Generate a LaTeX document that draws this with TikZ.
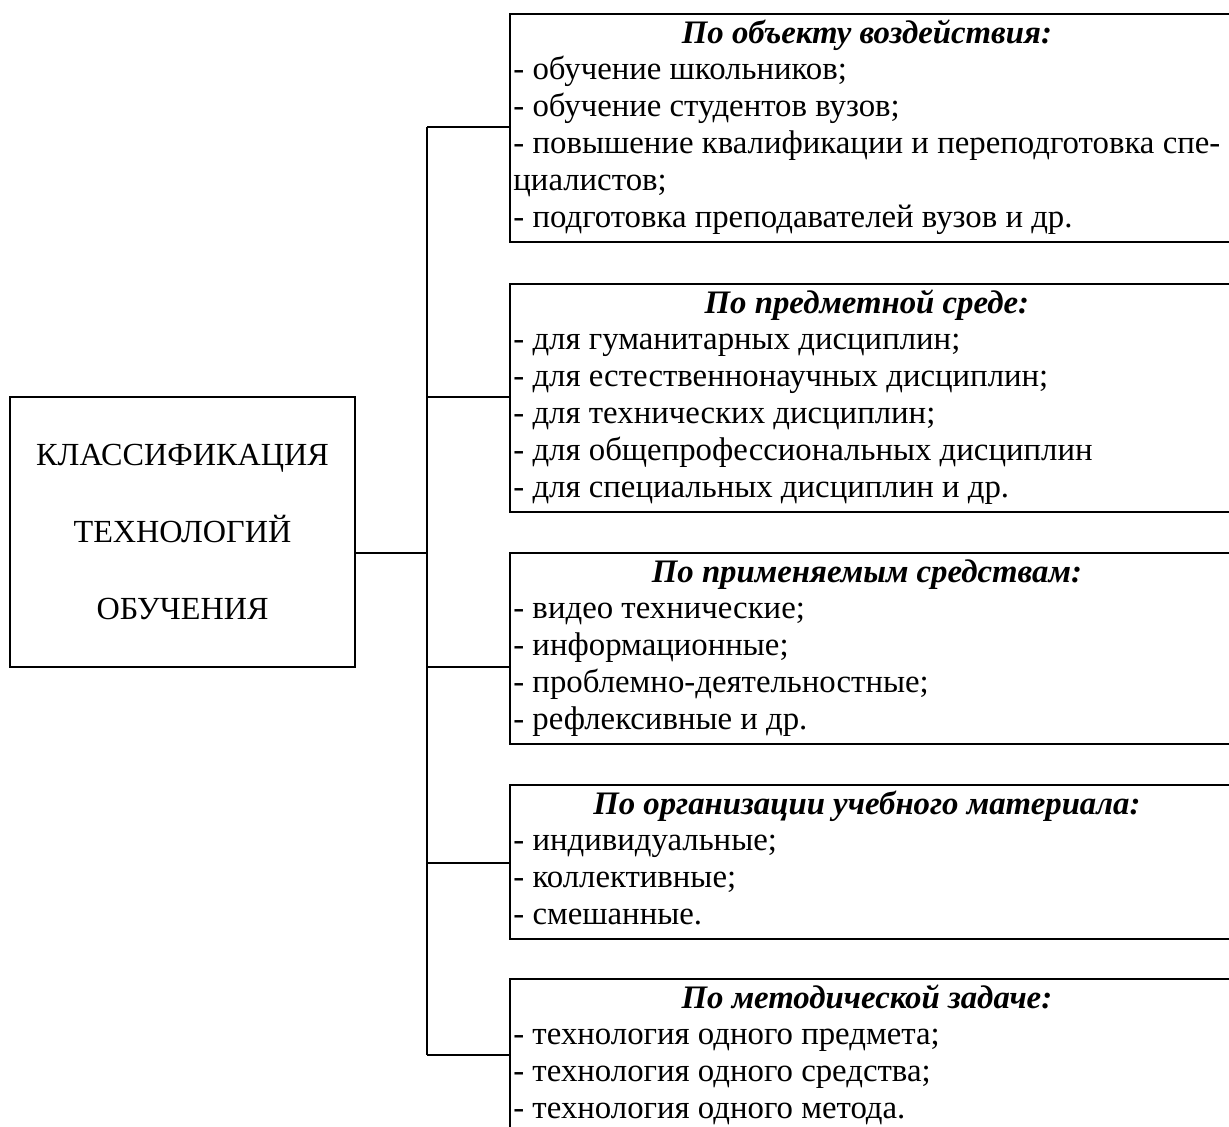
\documentclass[tikz,border=0pt]{standalone}
\usepackage{fontspec}
\setmainfont{Liberation Serif}
\usetikzlibrary{positioning, fit, calc}

\newcommand{\grouphead}[1]{{\centering\bfseries\itshape\strut #1\par}}

\tikzset{
    % Box styles - sharp corners, black lines
    mainbox/.style={
        rectangle,
        draw,
        line width=1pt,
        minimum width=172.5pt,
        minimum height=135pt,
        align=center,
        font=\fontsize{16.1}{38.5}\selectfont
    },
    textblock/.style={
        anchor=north west,
        text width=353.5pt,
        align=justify,
        inner xsep=1.5pt,
        inner ysep=1.5pt,
        font=\fontsize{16.4}{18.4}\selectfont,
        execute at begin node={\parindent=0pt},
        execute at end node={\strut}
    },
    frame/.style={
        rectangle,
        draw,
        line width=1pt,
        inner sep=0pt
    },
    % Connector style - straight lines only
    link/.style={
        draw,
        line width=1pt
    }
}

\begin{document}
\begin{tikzpicture}[x=0.5pt, y=-0.5pt]
    \useasboundingbox (0,0) rectangle (1229,1126);

    \node[mainbox] (cls) at (182.5,532) {КЛАССИФИКАЦИЯ\\ТЕХНОЛОГИЙ\\ОБУЧЕНИЯ};

    \node[textblock] (obj) at (510,14) {\grouphead{По объекту воздействия:}
        - обучение школьников;\par
        - обучение студентов вузов;\par
        - повышение квалификации и переподготовка спе-\linebreak циалистов;\par
        - подготовка преподавателей вузов и др.};
    \node[textblock] (env) at (510,284) {\grouphead{По предметной среде:}
        - для гуманитарных дисциплин;\par
        - для естественнонаучных дисциплин;\par
        - для технических дисциплин;\par
        - для общепрофессиональных дисциплин\par
        - для специальных дисциплин и др.};
    \node[textblock] (med) at (510,553) {\grouphead{По применяемым средствам:}
        - видео технические;\par
        - информационные;\par
        - проблемно-деятельностные;\par
        - рефлексивные и др.};
    \node[textblock] (org) at (510,785) {\grouphead{По организации учебного материала:}
        - индивидуальные;\par
        - коллективные;\par
        - смешанные.};
    \node[textblock] (met) at (510,979) {\grouphead{По методической задаче:}
        - технология одного предмета;\par
        - технология одного средства;\par
        - технология одного метода.};

    % frames run past the right edge of the page
    \node[frame, fit={(obj) ($(obj.south east)+(80,0)$)}] (objbox) {};
    \node[frame, fit={(env) ($(env.south east)+(80,0)$)}] (envbox) {};
    \node[frame, fit={(med) ($(med.south east)+(80,0)$)}] (medbox) {};
    \node[frame, fit={(org) ($(org.south east)+(80,0)$)}] (orgbox) {};
    \node[frame, fit={(met) ($(met.south east)+(80,40)$)}] (metbox) {};

    \coordinate (hub) at (427,553);
    \coordinate (k1) at (427,127);
    \coordinate (k2) at (427,397);
    \coordinate (k3) at (427,667);
    \coordinate (k4) at (427,863);
    \coordinate (k5) at (427,1055);

    \draw[link] (cls.east |- hub) -- (hub);
    \draw[link] (k1) -- (k5);
    \draw[link] (k1) -- (objbox.west |- k1);
    \draw[link] (k2) -- (envbox.west |- k2);
    \draw[link] (k3) -- (medbox.west |- k3);
    \draw[link] (k4) -- (orgbox.west |- k4);
    \draw[link] (k5) -- (metbox.west |- k5);
\end{tikzpicture}
\end{document}
